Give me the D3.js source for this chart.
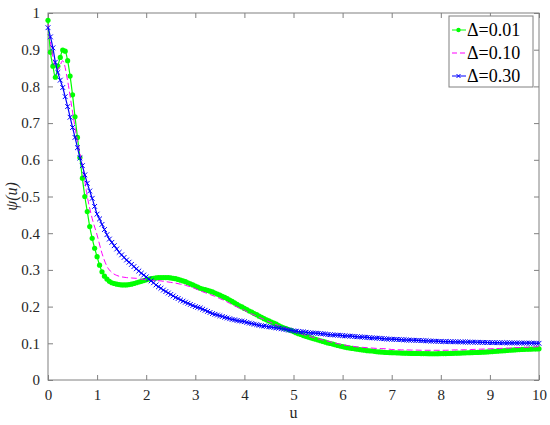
<!DOCTYPE html>
<html>
<head>
<meta charset="utf-8">
<script src="https://cdn.jsdelivr.net/npm/d3@7"></script>
<style>
  body { margin: 0; background: #fff; }
</style>
</head>
<body>
<svg id="chart" width="550" height="425"></svg>
<script>
// u grid for the marked series, 0 to 10 step 0.05
const uVals = d3.range(0, 201).map(i => i / 20);
// u grid for the dashed series, step 0.1
const uDash = d3.range(0, 101).map(i => i / 10);

// Δ=0.01
const psi001 = [
  0.98, 0.893, 0.855, 0.825, 0.855, 0.879, 0.899, 0.896, 0.87, 0.828, 0.777, 0.717, 0.661, 0.606, 0.55, 0.5, 0.459, 0.418, 0.386, 0.359,
  0.336, 0.313, 0.295, 0.283, 0.275, 0.269, 0.265, 0.263, 0.261, 0.26, 0.259, 0.259, 0.259, 0.26, 0.261, 0.263, 0.265, 0.267, 0.269, 0.271,
  0.273, 0.275, 0.276, 0.277, 0.278, 0.279, 0.279, 0.279, 0.279, 0.279, 0.278, 0.277, 0.276, 0.274, 0.272, 0.27, 0.268, 0.265, 0.262, 0.259,
  0.256, 0.253, 0.25, 0.248, 0.246, 0.244, 0.242, 0.24, 0.237, 0.234, 0.231, 0.228, 0.225, 0.222, 0.218, 0.214, 0.21, 0.206, 0.202, 0.199,
  0.195, 0.192, 0.188, 0.185, 0.181, 0.178, 0.174, 0.171, 0.167, 0.164, 0.161, 0.158, 0.155, 0.152, 0.148, 0.145, 0.142, 0.14, 0.137, 0.135,
  0.132, 0.129, 0.126, 0.124, 0.121, 0.119, 0.117, 0.115, 0.113, 0.111, 0.109, 0.107, 0.105, 0.103, 0.101, 0.0995, 0.098, 0.096, 0.094, 0.0925,
  0.091, 0.0895, 0.088, 0.087, 0.086, 0.085, 0.084, 0.083, 0.082, 0.081, 0.08, 0.0795, 0.079, 0.078, 0.077, 0.0765, 0.076, 0.0755, 0.075, 0.0748,
  0.0745, 0.0742, 0.074, 0.0738, 0.0735, 0.0732, 0.073, 0.0728, 0.0725, 0.0725, 0.0725, 0.0722, 0.072, 0.072, 0.072, 0.0718, 0.0715, 0.0715, 0.0715, 0.0718,
  0.072, 0.072, 0.072, 0.0722, 0.0725, 0.0728, 0.073, 0.0732, 0.0735, 0.0738, 0.074, 0.0742, 0.0745, 0.0748, 0.075, 0.0752, 0.0755, 0.0758, 0.076, 0.0765,
  0.077, 0.0775, 0.078, 0.0785, 0.079, 0.0795, 0.08, 0.0805, 0.081, 0.0815, 0.082, 0.0825, 0.083, 0.0832, 0.0835, 0.0838, 0.084, 0.0842, 0.0845, 0.0848,
  0.085
];

// Δ=0.10
const psi010 = [
  0.97, 0.88, 0.845, 0.87, 0.815, 0.73, 0.65, 0.585, 0.5, 0.44,
  0.395, 0.345, 0.31, 0.293, 0.285, 0.281, 0.279, 0.278, 0.277, 0.275,
  0.273, 0.272, 0.271, 0.27, 0.268, 0.266, 0.264, 0.261, 0.258, 0.254,
  0.249, 0.243, 0.238, 0.233, 0.228, 0.222, 0.216, 0.209, 0.202, 0.196,
  0.19, 0.183, 0.177, 0.171, 0.165, 0.159, 0.153, 0.148, 0.143, 0.138,
  0.1335, 0.129, 0.124, 0.12, 0.116, 0.112, 0.109, 0.106, 0.102, 0.099,
  0.096, 0.094, 0.092, 0.09, 0.089, 0.088, 0.087, 0.086, 0.0855, 0.085,
  0.083, 0.0825, 0.082, 0.082, 0.0815, 0.0815, 0.081, 0.081, 0.081, 0.081,
  0.081, 0.081, 0.0815, 0.082, 0.082, 0.0825, 0.083, 0.0835, 0.084, 0.0845,
  0.085, 0.0855, 0.086, 0.0865, 0.087, 0.088, 0.0885, 0.089, 0.0895, 0.09,
  0.091
];

// Δ=0.30
const psi030 = [
  0.96, 0.935, 0.905, 0.866, 0.838, 0.817, 0.797, 0.772, 0.745, 0.716, 0.688, 0.661, 0.633, 0.605, 0.584, 0.559, 0.536, 0.515, 0.495, 0.473,
  0.452, 0.439, 0.424, 0.41, 0.396, 0.384, 0.375, 0.366, 0.357, 0.348, 0.341, 0.334, 0.327, 0.321, 0.315, 0.309, 0.303, 0.297, 0.291, 0.286,
  0.281, 0.275, 0.27, 0.265, 0.259, 0.254, 0.25, 0.245, 0.241, 0.237, 0.233, 0.229, 0.225, 0.222, 0.218, 0.215, 0.212, 0.209, 0.206, 0.203,
  0.2, 0.198, 0.196, 0.193, 0.19, 0.187, 0.184, 0.181, 0.179, 0.177, 0.175, 0.173, 0.171, 0.169, 0.167, 0.165, 0.164, 0.162, 0.161, 0.16,
  0.159, 0.157, 0.155, 0.154, 0.152, 0.151, 0.149, 0.148, 0.147, 0.146, 0.145, 0.144, 0.143, 0.142, 0.141, 0.14, 0.139, 0.1375, 0.136, 0.135,
  0.134, 0.133, 0.132, 0.1315, 0.131, 0.13, 0.129, 0.1285, 0.128, 0.1275, 0.127, 0.1265, 0.126, 0.125, 0.124, 0.1235, 0.123, 0.1225, 0.122, 0.1215,
  0.121, 0.1205, 0.12, 0.1195, 0.119, 0.1185, 0.118, 0.1175, 0.117, 0.1165, 0.116, 0.1155, 0.115, 0.1145, 0.114, 0.1135, 0.113, 0.1125, 0.112, 0.1115,
  0.111, 0.1108, 0.1105, 0.1102, 0.11, 0.1095, 0.109, 0.1088, 0.1085, 0.1082, 0.108, 0.1078, 0.1075, 0.1072, 0.107, 0.1065, 0.106, 0.1058, 0.1055, 0.1052,
  0.105, 0.1048, 0.1047, 0.1045, 0.1044, 0.1042, 0.1041, 0.104, 0.1038, 0.1036, 0.1035, 0.1034, 0.1032, 0.103, 0.1029, 0.1028, 0.1026, 0.1024, 0.1023, 0.1022,
  0.102, 0.1019, 0.1018, 0.1017, 0.1016, 0.1015, 0.1014, 0.1013, 0.1012, 0.1011, 0.101, 0.1009, 0.1008, 0.1007, 0.1006, 0.1005, 0.1004, 0.1003, 0.1002, 0.1001,
  0.1
];

const xTicks = d3.range(0, 11);
const yTicks = d3.range(0, 11).map(i => i / 10);
const seriesNames = ["Δ=0.01", "Δ=0.10", "Δ=0.30"];

const svg = d3.select("#chart");
const pLeft = 48, pRight = 539, pTop = 13, pBottom = 380;
const axisCol = "#808080", textCol = "#262626";
const serif = "Liberation Serif";

const x = d3.scaleLinear().domain([0, 10]).range([pLeft, pRight]);
const y = d3.scaleLinear().domain([0, 1]).range([pBottom, pTop]);

// axes box
svg.append("rect")
  .attr("x", pLeft).attr("y", pTop)
  .attr("width", pRight - pLeft).attr("height", pBottom - pTop)
  .attr("fill", "none").attr("stroke", axisCol).attr("stroke-width", 1);

const tk = 5;
function styleAxis(g) {
  g.attr("font-family", serif).attr("font-size", 15);
  g.select(".domain").remove();
  g.selectAll(".tick line").attr("stroke", axisCol);
  g.selectAll(".tick text").attr("fill", textCol)
    .attr("font-family", serif).attr("font-size", 15);
}
svg.append("g").attr("transform", `translate(0,${pBottom})`)
  .call(d3.axisBottom(x).tickValues(xTicks).tickSizeInner(-tk).tickPadding(9).tickFormat(d3.format("d")))
  .call(styleAxis);
svg.append("g").attr("transform", `translate(0,${pTop})`)
  .call(d3.axisTop(x).tickValues(xTicks).tickSizeInner(-tk).tickFormat(""))
  .call(styleAxis);
svg.append("g").attr("transform", `translate(${pLeft},0)`)
  .call(d3.axisLeft(y).tickValues(yTicks).tickSizeInner(-tk).tickPadding(8).tickFormat(d => d === 0 || d === 1 ? d3.format("d")(d) : d3.format(".1f")(d)))
  .call(styleAxis);
svg.append("g").attr("transform", `translate(${pRight},0)`)
  .call(d3.axisRight(y).tickValues(yTicks).tickSizeInner(-tk).tickFormat(""))
  .call(styleAxis);

// axis labels
svg.append("text").attr("x", x(5)).attr("y", 418)
  .attr("text-anchor", "middle").attr("fill", textCol)
  .attr("font-family", serif).attr("font-size", 16).text("u");
svg.append("text")
  .attr("transform", `translate(17,${y(0.5)}) rotate(-90)`)
  .attr("text-anchor", "middle").attr("fill", textCol)
  .attr("font-family", serif).attr("font-size", 16).attr("font-style", "italic")
  .text("ψ(u)");

const line = d3.line().x(d => x(d[0])).y(d => y(d[1])).curve(d3.curveMonotoneX);
const pts = (us, vals) => us.map((u, i) => [u, vals[i]]);

const plot = svg.append("g");

// Δ=0.01 green with dot markers
plot.append("path").datum(pts(uVals, psi001))
  .attr("d", line).attr("fill", "none").attr("stroke", "#00ff00").attr("stroke-width", 1.2);
plot.selectAll("circle.g").data(pts(uVals, psi001)).join("circle")
  .attr("cx", d => x(d[0])).attr("cy", d => y(d[1])).attr("r", 2.6)
  .attr("fill", "#00ff00");

// Δ=0.10 magenta dashed
plot.append("path").datum(pts(uDash, psi010))
  .attr("d", line).attr("fill", "none").attr("stroke", "#ff00ff")
  .attr("stroke-width", 1).attr("stroke-dasharray", "6,3");

// Δ=0.30 blue with x markers
plot.append("path").datum(pts(uVals, psi030))
  .attr("d", line).attr("fill", "none").attr("stroke", "#0000ff").attr("stroke-width", 1.2);
const xm = 2.4;
plot.selectAll("path.xm").data(pts(uVals, psi030)).join("path")
  .attr("d", d => {
    const cx = x(d[0]), cy = y(d[1]);
    return `M${cx - xm},${cy - xm}L${cx + xm},${cy + xm}M${cx - xm},${cy + xm}L${cx + xm},${cy - xm}`;
  })
  .attr("stroke", "#0000ff").attr("stroke-width", 1);

// legend
const lg = svg.append("g");
lg.append("rect").attr("x", 449).attr("y", 16).attr("width", 84).attr("height", 71)
  .attr("fill", "#fff").attr("stroke", axisCol);
const legY = [30, 53, 76];
seriesNames.forEach((name, i) => {
  const yy = legY[i];
  const col = ["#00ff00", "#ff00ff", "#0000ff"][i];
  const l = lg.append("line").attr("x1", 452).attr("x2", 466).attr("y1", yy).attr("y2", yy)
    .attr("stroke", col).attr("stroke-width", 1);
  if (i === 1) l.attr("stroke-dasharray", "5,3");
  if (i === 0) lg.append("circle").attr("cx", 458.5).attr("cy", yy).attr("r", 2.2).attr("fill", col);
  if (i === 2) lg.append("path")
    .attr("d", `M456.5,${yy - 2}L460.5,${yy + 2}M456.5,${yy + 2}L460.5,${yy - 2}`)
    .attr("stroke", col);
  lg.append("text").attr("x", 467).attr("y", yy + 6)
    .attr("fill", "#000").attr("font-family", serif).attr("font-size", 18).text(name);
});
</script>
</body>
</html>
